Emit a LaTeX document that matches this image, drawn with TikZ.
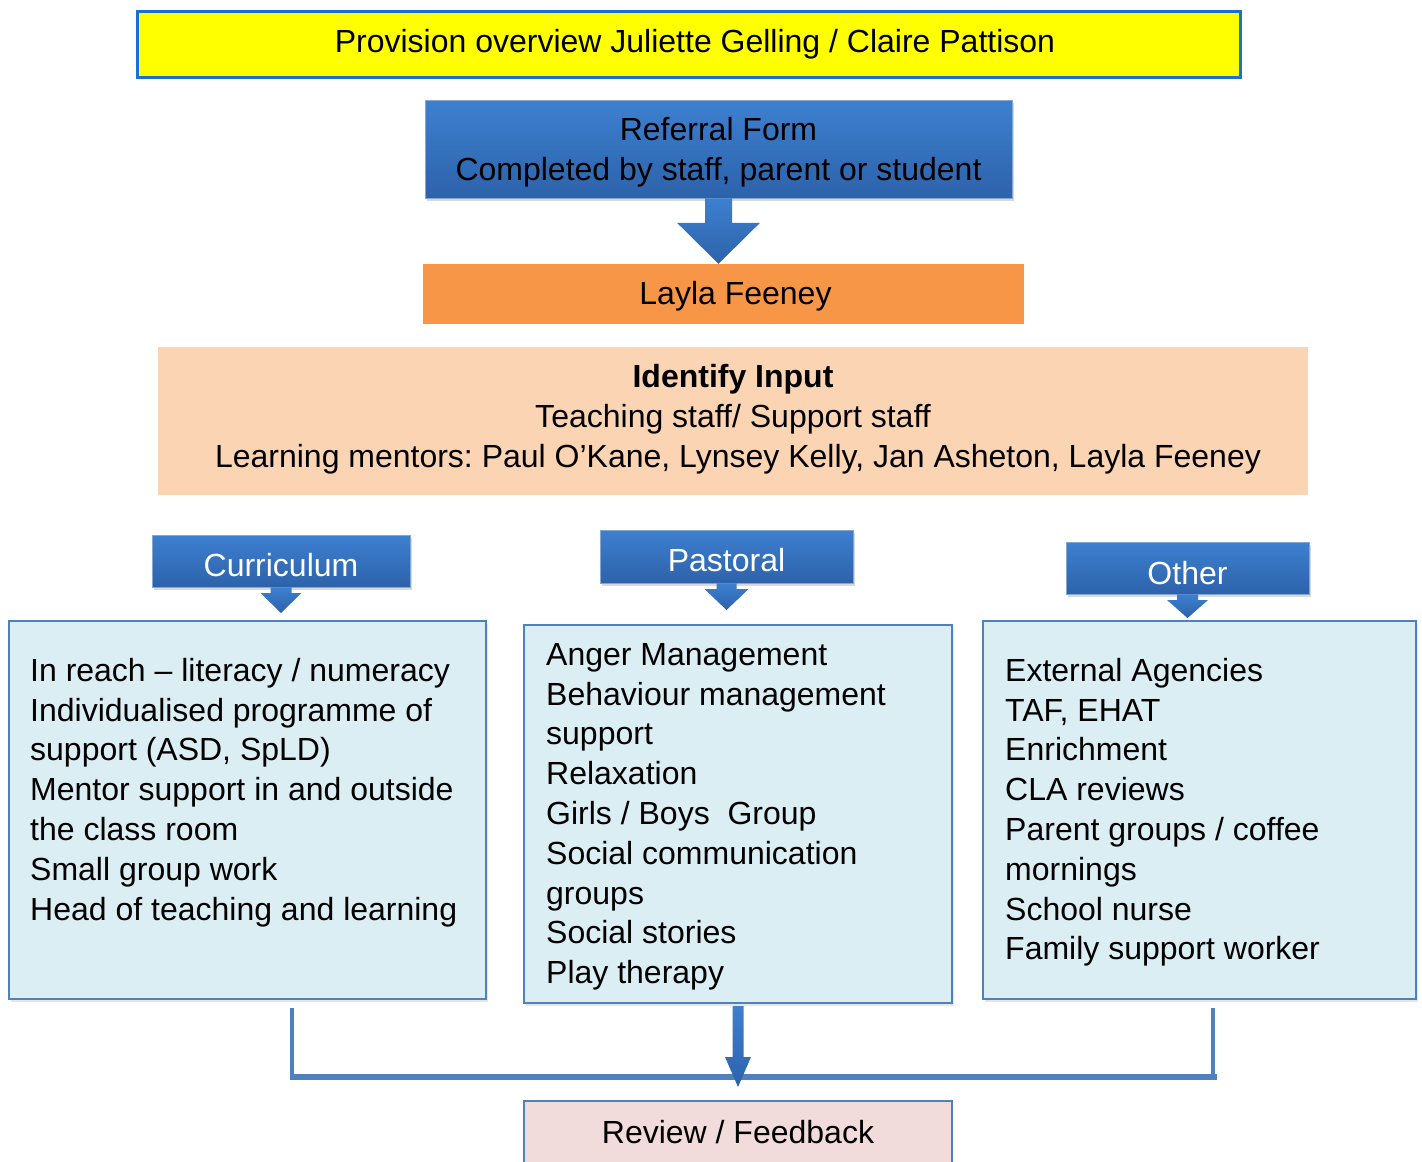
\documentclass[tikz,border=0pt]{standalone}
\usepackage{fontspec}
\setmainfont{Liberation Sans}
\usetikzlibrary{calc,shadows}
\definecolor{titleyellow}{HTML}{FFFF00}
\definecolor{titleblue}{HTML}{1A6FD2}
\definecolor{hbluetop}{HTML}{3D80D0}
\definecolor{hbluebot}{HTML}{2D62AA}
\definecolor{laylaorange}{HTML}{F79646}
\definecolor{peach}{HTML}{FBD4B4}
\definecolor{paleblue}{HTML}{DBEEF4}
\definecolor{accentblue}{HTML}{4F81BD}
\definecolor{palepink}{HTML}{F2DCDB}
\newcommand\bodyfont{\fontsize{32}{39.8}\selectfont\frenchspacing}
\newcommand\blkarrow[5]{%
  \path[blockarrow] let \p1=(#1), \p2=(#2) in
    (\x1-#3*0.5pt,\y1) -- (\x1+#3*0.5pt,\y1) -- (\x1+#3*0.5pt,\y2+#5*1pt)
    -- (\x1+#4*0.5pt,\y2+#5*1pt) -- (\x1,\y2) -- (\x1-#4*0.5pt,\y2+#5*1pt)
    -- (\x1-#3*0.5pt,\y2+#5*1pt) -- cycle;}
\tikzset{
  every node/.style={font=\bodyfont, inner sep=0pt},
  bluehead/.style={rectangle, top color=hbluetop, bottom color=hbluebot,
    draw=accentblue!70!white, line width=0.6pt,
    drop shadow={opacity=0.3, shadow xshift=2pt, shadow yshift=-3pt}},
  listbox/.style={rectangle, fill=paleblue, draw=accentblue, line width=2pt,
    drop shadow={opacity=0.2, shadow xshift=2pt, shadow yshift=-3pt}},
  listtext/.style={anchor=north west, align=left},
  headtext/.style={text=white},
  blockarrow/.style={top color=hbluetop, bottom color=hbluebot},
  bracket/.style={draw=accentblue, line cap=butt}
}
\begin{document}
\begin{tikzpicture}[x=1pt,y=1pt]
\useasboundingbox (0,0) rectangle (1422,-1162);

% title
\node[rectangle, fill=titleyellow, draw=titleblue, line width=3pt,
  minimum width=1103pt, minimum height=66pt] (title) at (688.5,-44) {};
\node (titletext) at (695,-44)
  {Provision overview Juliette Gelling / Claire Pattison};

% referral
\node[bluehead, minimum width=587pt, minimum height=98pt]
  (referral) at (718.5,-149) {};
\node[align=center] (referraltext) at (718.5,-152.5)
  {Referral Form\\Completed by staff, parent or student};

% Layla
\node[rectangle, fill=laylaorange, minimum width=601pt, minimum height=60pt]
  (layla) at (723.5,-294) {};
\node (laylatext) at (735.5,-296) {Layla Feeney};

\blkarrow{referral.south}{layla.north}{27}{83}{41}

% identify input
\node[rectangle, fill=peach, minimum width=1150pt, minimum height=148pt]
  (identify) at (733,-421) {};
\node[align=center] (identifytext) at (733,-419)
  {\textbf{Identify Input}\\Teaching staff/ Support staff\\
   \hspace*{10pt}Learning mentors: Paul O’Kane, Lynsey Kelly, Jan Asheton, Layla Feeney};

% headers
\node[bluehead, minimum width=258pt, minimum height=52pt] (curhead) at (281,-561) {};
\node[headtext] (curheadtext) at (281,-565) {Curriculum};
\node[bluehead, minimum width=253pt, minimum height=53pt] (pashead) at (726.5,-556.5) {};
\node[headtext] (pasheadtext) at (726.5,-560) {Pastoral};
\node[bluehead, minimum width=243pt, minimum height=52pt] (othhead) at (1187.5,-568) {};
\node[headtext] (othheadtext) at (1187.5,-573) {Other};

% list boxes
\node[listbox, minimum width=477pt, minimum height=378pt] (curbox) at (247.5,-810) {};
\node[listbox, minimum width=428pt, minimum height=378pt] (pasbox) at (738,-814) {};
\node[listbox, minimum width=433pt, minimum height=378pt] (othbox) at (1199.5,-810) {};

\blkarrow{curhead.south}{$(curbox.north)+(0,7)$}{21}{41}{20}
\blkarrow{pashead.south}{$(pasbox.north)+(0,14)$}{20}{44}{21}
\blkarrow{othhead.south}{$(othbox.north)+(0,2)$}{21}{41}{18}

\node[listtext] (curtext) at (30,-658)
  {In reach – literacy / numeracy\\Individualised programme of\\support (ASD, SpLD)\\
   Mentor support in and outside\\the class room\\Small group work\\
   Head of teaching and learning};
\node[listtext] (pastext) at (546,-643)
  {Anger Management\\Behaviour management\\support\\Relaxation\\
   Girls / Boys~~Group\\Social communication\\groups\\Social stories\\Play therapy};
\node[listtext] (othtext) at (1005,-658)
  {External Agencies\\TAF, EHAT\\Enrichment\\CLA reviews\\
   Parent groups / coffee\\mornings\\School nurse\\Family support worker};

% review
\node[rectangle, fill=palepink, draw=accentblue, line width=2pt,
  minimum width=428pt, minimum height=70pt] (review) at (738,-1136) {};
\node (reviewtext) at (738,-1132) {Review / Feedback};

% bracket connectors
\coordinate (lt) at ($(curbox.south)+(44.5,-8)$);
\coordinate (rt) at ($(othbox.south)+(13.5,-8)$);
\coordinate (lb) at ($(lt)+(0,-69)$);
\coordinate (rb) at ($(rt)+(0,-69)$);
\draw[bracket, line width=3.5pt] (lt) -- (lb);
\draw[bracket, line width=3.5pt] (rt) -- (rb);
\draw[bracket, line width=5.5pt] ($(lb)+(-1.75,0)$) -- ($(rb)+(4,0)$);

\blkarrow{$(pasbox.south)+(0,-2)$}{$(review.north)+(0,13)$}{11}{26}{30}
\end{tikzpicture}
\end{document}
